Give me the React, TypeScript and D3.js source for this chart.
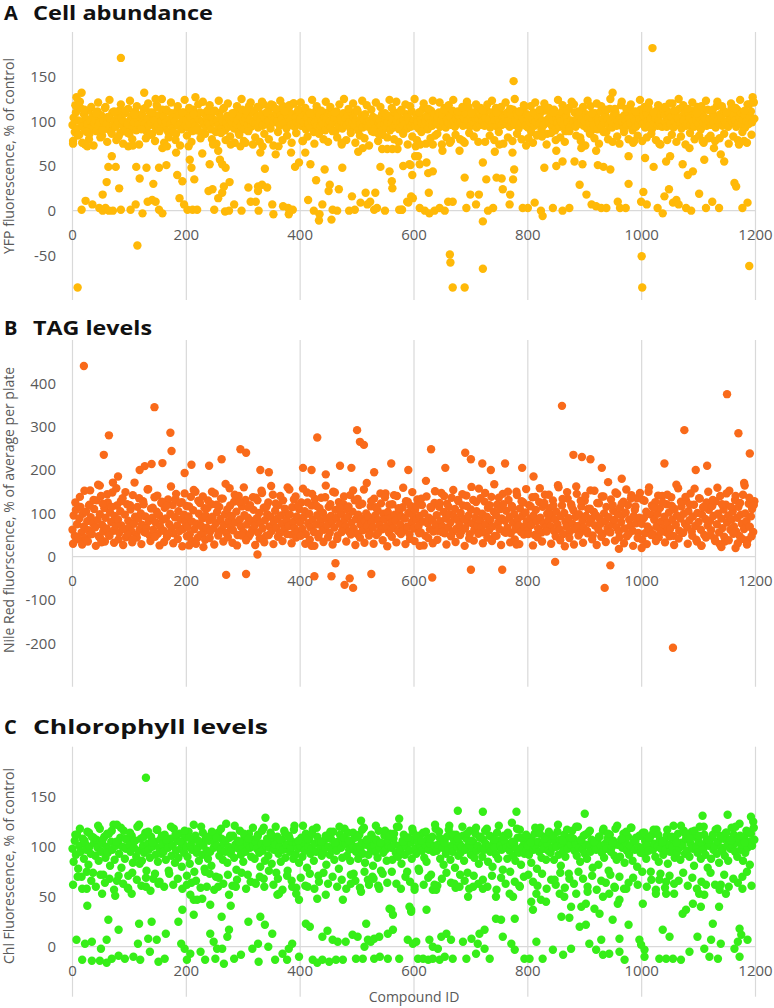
import React from "react";
import * as d3 from "d3";

// ---------- DATA ----------
const compoundTicks = [0, 200, 400, 600, 800, 1000, 1200];
const cellTicks = [-50, 0, 50, 100, 150];
const tagTicks = [-200, -100, 0, 100, 200, 300, 400];
const chlTicks = [0, 50, 100, 150];

// Main-band values, one per even compound (compound ID = index * 2)
const cellBand = [
96,104,88,110,92,101,85,115,99,94,108,90,103,97,112,86,100,93,106,98,
102,89,111,95,99,107,84,100,93,116,97,105,91,103,88,110,96,101,94,108,
99,112,87,104,95,100,109,91,97,114,86,102,106,93,99,111,90,103,96,105,
92,108,100,97,115,89,103,95,110,98,86,104,101,93,118,96,107,91,100,113,
105,94,99,111,88,102,97,109,93,104,100,86,112,95,107,98,91,103,110,96,
101,93,108,97,104,89,113,99,95,106,92,102,110,87,100,97,109,94,103,98,
96,107,91,103,99,112,88,101,95,109,104,93,100,115,90,98,106,94,102,97,
99,104,92,110,97,101,87,106,95,113,100,91,103,108,96,117,102,94,110,99,
112,98,105,93,116,101,108,95,119,103,97,110,100,114,92,106,118,99,104,109,
100,113,95,107,103,117,98,110,92,105,115,101,96,108,120,94,104,99,111,97,
102,95,108,99,113,91,104,97,110,93,101,106,88,99,112,95,103,107,94,100,
97,105,90,102,110,96,100,93,108,99,104,89,111,98,95,106,101,92,109,97,
103,96,107,99,92,110,98,104,95,101,113,90,100,97,106,93,102,108,96,99,
94,101,97,89,105,99,92,103,87,98,100,95,108,91,97,102,93,99,106,90,
98,103,93,110,96,100,106,91,99,113,95,102,97,108,92,104,100,94,111,98,
101,95,107,99,92,110,103,97,114,96,100,106,91,104,98,112,95,102,108,99,
97,104,110,94,101,107,99,115,93,102,98,109,105,96,112,100,94,103,108,99,
106,99,112,95,103,109,97,101,116,94,105,100,110,98,104,93,113,102,96,107,
100,108,95,104,112,98,102,93,110,97,106,101,115,94,103,99,109,96,105,100,
104,97,110,101,94,108,99,113,96,103,100,107,92,111,98,105,102,116,95,108,
93,106,99,88,102,110,95,100,84,104,97,109,91,101,96,112,99,86,103,98,
108,95,101,113,90,104,98,107,94,100,111,96,103,89,106,99,115,93,101,97,
99,110,94,103,97,106,82,101,113,95,100,108,92,104,98,117,90,102,96,109,
105,91,100,97,111,94,103,99,107,88,102,96,114,101,93,106,98,110,95,100,
96,104,118,99,92,107,101,95,110,103,98,112,90,105,100,94,109,97,102,113,
101,97,106,93,109,100,115,96,103,91,107,99,104,112,95,101,98,108,94,110,
107,99,94,111,102,97,105,120,93,100,108,96,103,114,98,92,106,101,110,95,
98,109,103,96,112,100,94,107,101,116,97,104,91,110,99,105,102,95,113,100,
103,96,110,99,106,93,117,101,97,108,104,95,112,100,98,109,94,106,102,115,
99,107,101,94,113,98,104,110,96,102,108,93,100,119,97,105,111,99,122,103
];

// Outer-band values, one per 4 compounds (compound ID = index * 4 + 1)
const cellBandOuter = [
78,118,84,122,76,113,88,80,116,73,109,121,82,90,115,77,124,86,111,79,
83,119,75,112,87,123,80,108,117,74,91,114,81,120,85,110,78,116,89,125,
76,113,82,121,88,79,117,73,110,124,84,115,77,108,90,119,81,122,86,112,
118,80,111,75,123,87,114,79,120,83,109,76,117,85,125,78,112,89,121,74,
82,116,77,122,86,110,80,119,73,114,88,123,79,111,84,118,76,120,87,113,
121,78,115,83,109,124,75,117,86,112,80,122,77,116,89,110,82,119,74,125,
79,114,87,120,76,111,84,123,81,118,73,113,88,121,78,116,85,109,82,124,
115,80,122,77,112,86,119,74,117,83,125,79,110,88,120,75,114,81,123,84,
86,121,74,113,82,118,78,124,85,111,80,116,76,122,87,109,83,119,77,115,
112,77,119,84,123,79,110,88,116,75,121,82,114,78,125,86,111,80,118,73,
81,117,76,121,85,113,83,120,74,115,87,110,79,124,82,118,77,112,89,122,
119,84,111,78,116,73,123,86,109,81,120,75,117,88,113,80,125,77,114,83,
75,122,88,114,80,119,76,111,84,124,78,116,82,121,86,110,79,118,74,115,
116,79,120,85,112,77,125,83,118,74,114,87,121,80,109,84,117,76,123,81,
84,113,78,122,81,117,86,110,75,120,83,115,79,124,88,112,76,119,85,121
];

// Off-band points: [compound ID, value]
const cellScatter = [
[1,75],[9,-86],[7,127],[16,132],[22,74],[26,72],[16,1],[23,11],[35,7],[47,3],[53,0],[58,3],[64,0],[71,0],[85,1],[53,18],[60,32],[63,49],[76,49],[69,61],[82,25],[85,171],[98,72],[106,73],[102,1],[111,7],[123,-3],[114,-39],[112,49],[118,36],[130,48],[126,132],[142,30],[132,10],[140,12],[146,10],[152,1],[158,-3],[152,48],[165,51],[146,125],[158,70],[166,72],[182,65],[184,40],[188,14],[193,33],[196,7],[202,1],[204,72],[206,57],[209,48],[214,35],[211,1],[219,1],[216,127],[228,64],[241,52],[239,22],[246,24],[249,1],[247,74],[256,67],[259,57],[263,52],[269,48],[263,20],[266,27],[256,14],[276,32],[268,-1],[275,0],[278,74],[284,7],[297,0],[295,72],[304,76],[309,26],[313,10],[322,10],[327,0],[326,27],[333,29],[342,26],[330,65],[334,72],[326,22],[338,47],[357,63],[351,7],[353,-4],[362,72],[370,5],[379,3],[387,1],[384,65],[391,49],[398,54],[380,-4],[404,78],[409,65],[414,12],[418,52],[428,34],[424,0],[434,-4],[439,7],[433,-11],[443,46],[452,29],[450,22],[455,-10],[457,1],[465,0],[468,24],[474,48],[473,76],[486,0],[491,16],[496,1],[502,66],[506,9],[515,20],[523,10],[510,70],[518,7],[530,1],[532,20],[535,3],[541,49],[544,69],[549,0],[553,69],[562,69],[571,69],[557,44],[561,33],[562,25],[574,1],[579,1],[588,10],[595,16],[594,51],[597,40],[602,61],
[581,50],[592,52],[607,61],[610,52],[622,54],[625,42],[633,44],[603,72],[611,74],[578,1],[590,9],[598,14],[610,3],[619,0],[627,-3],[636,0],[645,3],[654,0],[626,20],[633,74],[650,67],[663,76],[680,67],[686,78],[660,10],[668,10],[663,-49],[664,-58],[668,-86],[689,-86],[721,-65],[689,37],[721,54],[727,35],[745,37],[754,36],[756,24],[769,18],[774,35],[776,46],[773,65],[742,66],[750,74],[699,18],[714,18],[709,7],[692,3],[721,-12],[730,0],[739,3],[768,7],[775,145],[791,3],[800,3],[812,9],[823,0],[826,-6],[829,48],[844,3],[850,50],[861,55],[861,0],[873,3],[850,67],[882,55],[896,52],[891,29],[894,70],[903,18],[912,7],[920,5],[929,3],[938,3],[923,51],[933,49],[945,46],[920,67],[949,132],[958,10],[962,3],[972,3],[977,61],[977,30],[987,78],[999,10],[1009,7],[1003,21],[1006,59],[1021,49],[1019,182],[1000,-51],[1001,-86],[1028,3],[1037,-3],[1031,75],[1043,55],[1050,61],[1040,16],[1048,24],[1055,9],[1061,12],[1065,7],[1072,52],[1078,3],[1087,0],[1081,40],[1090,44],[1084,70],[1101,19],[1110,57],[1107,78],[1113,3],[1124,10],[1136,3],[1127,70],[1139,63],[1145,55],[1163,31],[1166,27],[1177,3],[1186,9],[1189,-62],[1171,74],[1180,78],[1195,127]
];

const tagBand = [
62,95,48,108,75,40,88,115,56,99,70,43,104,82,61,120,91,52,77,110,
68,130,85,47,98,140,73,58,112,90,65,125,50,102,80,148,60,94,71,118,
86,55,105,72,135,64,97,45,121,83,68,109,58,142,76,92,51,115,88,63,
100,74,128,57,93,67,155,82,48,111,90,62,137,79,104,53,96,70,124,85,
60,113,88,46,132,75,99,66,119,54,91,145,72,105,59,86,126,64,97,80,
117,69,93,52,138,81,107,63,150,76,44,99,124,71,88,56,112,95,67,130,
84,58,121,92,66,146,77,103,49,115,87,62,134,73,98,55,109,82,158,68,
94,61,127,79,104,50,140,86,69,116,57,96,131,74,90,47,119,83,63,108,
72,136,89,56,101,78,152,65,113,84,48,98,125,70,92,59,143,81,106,67,
88,119,54,95,76,130,63,102,85,160,71,97,51,114,80,66,139,93,58,110,
79,125,64,91,105,52,148,77,99,68,118,86,57,133,74,96,45,112,83,70,
101,62,137,88,73,115,55,94,81,150,67,108,90,49,126,76,99,60,121,85,
69,110,93,58,142,78,104,65,130,87,53,97,119,74,88,61,155,82,100,71,
92,57,116,80,68,134,95,50,107,84,72,123,63,99,86,146,70,103,55,89,
78,121,66,97,83,140,59,105,74,92,114,61,88,128,69,101,52,117,80,95,
65,108,86,132,71,94,56,119,81,100,48,139,77,90,63,112,85,58,124,73,
96,60,115,82,147,70,103,54,88,122,67,98,79,136,57,93,110,64,86,128,
74,101,59,118,87,66,141,80,95,52,109,77,131,62,90,105,71,157,84,68,
99,56,127,75,92,113,61,85,138,70,104,48,96,120,79,64,110,88,145,58,
83,106,67,131,91,54,117,78,98,63,150,86,72,111,57,94,125,69,102,80,
61,119,88,73,137,95,50,108,82,65,126,90,56,115,77,143,68,99,84,112,
70,97,130,59,86,104,75,160,63,93,118,52,101,81,69,134,89,58,121,76,
107,64,92,145,71,98,55,116,83,67,129,94,60,110,78,153,87,49,103,72,
95,124,62,88,76,139,53,100,82,115,66,91,57,132,74,106,85,148,68,97,
58,113,80,96,127,65,102,47,119,86,71,142,60,94,108,77,135,55,90,84,
76,131,89,54,104,70,150,63,97,118,52,85,126,69,99,45,112,81,140,66,
92,57,121,78,102,64,137,86,48,110,73,95,158,60,88,116,55,99,76,129,
68,105,84,146,58,93,120,71,39,101,80,134,62,97,114,50,87,125,72,108,
83,61,117,94,42,128,75,99,56,140,88,66,109,35,120,79,95,152,62,86,
104,70,131,58,90,115,48,97,76,143,64,100,82,38,122,69,93,110,57,128
];

const tagBandOuter = [
30,125,45,138,28,152,38,118,52,131,25,166,42,122,35,144,48,115,32,158,
40,128,27,149,50,119,33,171,44,135,29,121,55,156,36,113,46,141,26,127,
34,117,53,162,31,133,41,124,24,146,47,116,37,154,30,129,51,139,39,112,
43,150,28,120,56,134,35,168,45,118,32,143,26,126,49,160,38,114,54,137,
27,130,42,147,33,116,50,163,29,123,46,140,36,111,52,155,31,132,44,119,
48,157,30,125,39,145,25,117,53,136,34,164,45,121,28,148,41,113,57,139,
35,116,51,153,27,133,44,122,32,170,49,128,30,114,55,146,38,137,24,120,
46,142,33,112,52,159,29,127,41,149,36,118,54,134,26,175,43,115,31,151,
39,124,57,140,28,115,47,154,34,131,50,144,25,117,42,161,37,126,53,135,
31,147,44,119,36,167,48,136,27,121,55,150,33,113,40,142,29,128,51,156,
52,116,26,138,45,158,35,124,58,143,30,118,47,165,38,133,24,149,43,116,
28,162,49,129,32,140,54,111,40,152,27,123,46,139,34,172,56,119,37,145,
45,122,31,155,52,134,25,116,43,147,39,129,29,160,50,113,36,141,57,125,
33,143,47,117,27,166,42,127,55,138,30,120,48,157,35,135,26,114,44,150,
50,131,36,159,29,121,46,146,38,115,53,140,31,124,41,164,28,136,47,119
];

const tagScatter = [
[20,440],[55,235],[64,280],[144,345],[172,286],[174,244],[158,216],[127,209],[139,214],[118,200],[197,193],[209,212],[71,171],[80,185],[48,164],[31,153],[240,210],[262,225],[295,248],[305,240],[330,200],[345,195],[430,275],[405,205],[420,200],[445,190],[470,210],[490,205],[500,292],[505,265],[512,258],[530,195],[560,215],[590,200],[630,248],[655,205],[690,240],[700,225],[720,215],[735,200],[760,215],[790,205],[810,185],[860,348],[880,235],[895,230],[910,225],[930,205],[965,180],[1040,215],[1075,292],[1095,200],[1115,210],[1150,375],[1170,285],[1190,238],[1180,170],
[270,-42],[305,-40],[325,5],[425,-45],[455,-45],[462,-15],[478,-65],[487,-50],[493,-72],[525,-40],[632,-48],[700,-30],[755,-30],[848,-12],[935,-72],[945,-20],[1055,-210],
[6,44],[27,35],[51,33],[106,40],[205,26],[230,22],[420,25],[1000,20],[1105,25],[1140,22],[1165,20],[610,25],[780,28],[960,18]
];

const chlBand = [
98,85,106,92,112,78,101,95,70,108,88,103,97,115,82,100,93,110,74,104,
91,107,99,86,118,95,103,72,110,89,100,94,113,81,105,97,122,87,101,66,
104,93,109,79,100,116,88,98,107,71,102,95,111,84,99,106,90,120,96,83,
108,86,101,94,114,76,103,97,89,110,100,68,105,92,117,85,99,107,93,102,
95,112,87,104,99,73,108,91,101,118,84,96,106,89,113,98,80,103,94,109,
100,90,115,83,102,97,107,75,111,94,99,86,104,120,92,101,78,108,96,88,
106,95,81,110,99,104,70,101,114,91,97,108,87,103,95,123,84,100,109,93,
97,111,89,102,77,106,98,116,92,100,85,109,95,104,72,113,99,90,107,101,
88,105,98,112,94,80,103,96,119,86,101,108,91,99,114,83,106,97,102,74,
110,93,100,85,107,97,116,89,102,76,111,95,99,105,88,121,92,103,98,84,
101,109,90,104,96,113,79,100,107,93,98,117,86,103,95,110,71,105,99,91,
94,106,99,82,111,100,92,108,97,115,87,102,96,105,78,112,99,89,104,118,
103,91,114,97,86,106,101,73,109,95,100,88,112,98,104,93,119,84,102,107,
92,104,98,110,81,101,95,107,89,116,99,76,103,94,111,97,86,105,100,113,
99,87,108,102,94,120,90,101,97,83,106,112,92,100,75,109,96,104,88,115,
107,98,93,105,78,111,100,96,114,89,102,85,108,97,103,72,110,95,101,118,
96,102,115,88,106,99,82,104,93,110,98,121,87,101,95,107,79,112,100,91,
103,94,100,111,86,97,108,74,102,116,92,99,105,89,113,96,101,83,109,98,
90,107,97,103,118,85,100,95,110,80,104,99,92,114,88,106,101,97,77,111,
105,99,88,112,96,102,124,91,103,86,98,109,94,117,82,100,107,93,104,96,
101,92,109,84,106,97,113,100,78,105,95,119,89,102,98,110,87,103,96,108,
94,111,99,87,104,100,115,92,107,81,101,96,112,90,105,98,73,109,102,116,
108,96,103,91,120,99,85,106,97,111,93,102,88,114,100,95,107,79,104,99,
97,105,82,110,101,94,116,89,103,98,108,76,112,95,100,106,91,118,87,102,
102,90,107,99,113,84,104,96,110,92,101,119,86,105,97,109,80,100,111,94,
99,114,93,106,88,101,96,108,75,112,97,103,90,117,100,85,107,98,104,92,
105,97,111,83,102,95,109,100,121,89,106,94,113,99,87,104,101,116,93,108,
96,107,90,103,115,98,81,110,100,94,105,120,88,102,97,112,92,106,79,101,
103,88,109,97,100,117,93,105,84,111,99,96,108,91,114,101,86,107,98,119,
100,112,95,104,90,108,123,97,102,86,110,94,116,99,105,82,113,101,125,107
];

const chlBandOuter = [
62,112,70,118,58,106,75,114,66,109,60,121,72,107,64,113,68,116,57,105,
71,119,63,108,59,114,74,106,67,122,61,110,69,115,56,104,73,117,65,111,
60,107,76,120,62,112,68,105,58,116,71,109,64,122,66,106,59,114,75,110,
73,115,57,109,69,118,63,106,72,111,61,121,67,105,74,113,58,108,65,119,
64,110,70,116,60,104,76,112,62,120,68,107,57,114,71,109,66,117,59,106,
69,121,61,108,73,113,58,119,65,105,74,111,63,115,70,104,60,120,67,109,
58,106,72,114,66,110,59,117,75,107,62,112,68,121,61,104,73,116,64,111,
75,113,63,120,58,105,70,109,65,118,60,111,76,106,62,115,69,108,57,122,
61,109,68,104,74,117,64,112,59,108,72,120,66,113,58,106,71,119,63,110,
67,116,60,111,71,107,57,121,69,110,63,114,75,105,65,118,61,109,70,112,
72,104,65,119,61,113,73,108,58,115,67,111,62,122,74,106,59,117,68,109,
63,120,75,107,68,112,60,116,71,105,57,110,66,118,64,113,72,104,59,121,
70,108,58,115,64,119,69,106,62,111,75,114,60,109,67,117,57,112,73,105,
59,117,71,110,63,104,66,121,74,113,61,108,69,116,58,111,65,120,62,107,
74,112,62,118,57,109,72,114,60,106,68,120,64,111,70,104,75,115,61,119
];

const chlScatter = [
[7,7],[22,3],[34,5],[50,-2],[60,7],[63,27],[81,17],[26,41],[52,53],[75,51],[17,-13],[34,-14],[48,-14],[60,-16],[69,-12],[81,-9],[92,-12],[107,-10],[119,-13],[115,3],[117,23],[139,25],[133,8],[148,7],[136,-5],[151,-15],[162,-12],[164,13],[186,25],[193,37],[191,3],[197,-2],[207,-7],[201,-13],[213,32],[225,-5],[233,-13],[242,13],[248,5],[254,-2],[263,-2],[251,-12],[266,-17],[262,30],[275,17],[272,10],[278,41],[284,-12],[296,-8],[309,25],[316,-2],[326,3],[330,30],[338,22],[351,13],[327,-15],[344,0],[356,-13],[369,-7],[380,-2],[386,3],[377,-13],[398,-10],[410,23],[417,20],[422,-13],[430,-16],[439,-13],[451,-15],[463,-13],[475,-13],[439,10],[448,16],[457,7],[466,5],[480,5],[492,12],[501,10],[513,0],[519,7],[524,5],[516,23],[530,8],[539,10],[498,-12],[510,-12],[530,-12],[540,-10],[554,-12],[563,17],[554,13],[557,38],[563,32],[574,-12],[589,7],[598,3],[592,40],[595,35],[607,-12],
[25,58],[98,58],[104,53],[129,60],[151,63],[201,62],[207,52],[213,47],[219,47],[228,48],[236,60],[242,42],[256,60],[275,52],[287,60],[322,63],[336,68],[360,52],[363,53],[386,60],[393,53],[398,47],[413,60],[430,48],[445,52],[475,47],[489,63],[507,55],[519,67],[527,70],[539,58],[560,37],
[129,169],[339,129],[78,122],[507,126],[574,128],
[595,37],[622,37],[604,5],[627,7],[633,0],[642,-2],[616,-12],[625,-13],[633,-12],[645,-13],[654,-10],[668,-12],[692,-12],[709,-7],[733,-12],[648,10],[657,13],[665,7],[686,5],[701,8],[715,13],[724,17],[712,3],[724,-2],[744,28],[753,27],[756,10],[771,3],[777,-3],[777,28],[794,-12],[803,-12],[826,-12],[815,5],[844,-3],[862,-8],[876,-2],[859,30],[873,29],[891,20],[902,22],[908,3],[920,-3],[932,-8],[943,-7],[929,7],[949,27],[961,8],[961,-5],[970,-13],[977,22],[996,7],[999,2],[1005,-3],[1005,-10],[1037,17],[1049,10],[1031,-12],[1043,-12],[1055,-12],[1069,-13],[1084,-5],[1098,10],[1110,-2],[1122,7],[1125,23],[1119,-10],[1134,-12],[1139,3],[1163,-2],[1169,5],[1175,12],[1186,7],[1172,18],[1172,-10],
[601,57],[639,57],[636,62],[671,63],[680,60],[695,50],[704,60],[721,58],[744,50],[768,53],[774,50],[786,60],[809,37],[806,45],[815,53],[823,47],[832,45],[847,67],[856,53],[864,50],[876,40],[885,53],[894,40],[902,43],[917,38],[926,33],[905,55],[932,50],[943,53],[952,60],[958,43],[961,47],[973,58],[1002,43],[1025,53],[1043,53],[1057,53],[1031,67],[1043,65],[1072,33],[1078,37],[1090,43],[1101,53],[1110,52],[1104,40],[1139,62],[1148,53],[1136,40],[1177,58],
[677,136],[721,135],[780,135],[900,133],[1107,131],[1151,132],[1192,130]
];

// ---------- LAYOUT ----------
const W = 774;
const H = 1008;
const xScale = d3.scaleLinear().domain([0, 1200]).range([72.5, 755.5]);
const GRID = "#d9d9d9";
const TXT = "#595959";
const FONT = "'Open Sans', 'Noto Sans', sans-serif";

type PanelDef = {
  letter: string;
  title: string;
  titleY: number;
  titleLen: number;
  yLabel: string;
  yLabelY: number;
  top: number;
  bottom: number;
  domain: [number, number];
  ticks: number[];
  color: string;
  band: number[];
  outer: number[];
  scatter: number[][];
};

const panels: PanelDef[] = [
  {
    letter: "A", title: "Cell abundance", titleY: 19.5, titleLen: 180,
    yLabel: "YFP fluorescence, % of control", yLabelY: 156,
    top: 32, bottom: 300, domain: [-100, 200], ticks: cellTicks,
    color: "#FFB908", band: cellBand, outer: cellBandOuter, scatter: cellScatter,
  },
  {
    letter: "B", title: "TAG levels", titleY: 335, titleLen: 119,
    yLabel: "Nile Red fluorscence, % of average per plate", yLabelY: 510,
    top: 340, bottom: 686.7, domain: [-300, 500], ticks: tagTicks,
    color: "#F96A1A", band: tagBand, outer: tagBandOuter, scatter: tagScatter,
  },
  {
    letter: "C", title: "Chlorophyll levels", titleY: 733.5, titleLen: 235,
    yLabel: "Chl Fluorescence, % of control", yLabelY: 866,
    top: 746.7, bottom: 996.7, domain: [-50, 200], ticks: chlTicks,
    color: "#36EE18", band: chlBand, outer: chlBandOuter, scatter: chlScatter,
  },
];

function Panel({ p }: { p: PanelDef }) {
  const y = d3.scaleLinear().domain(p.domain).range([p.bottom, p.top]);
  const y0 = y(0);
  const pts: number[][] = [
    ...p.band.map((v, i) => [i * 2, v]),
    ...p.outer.map((v, i) => [i * 4 + 1, v]),
    ...p.scatter,
  ];
  return (
    <g>
      {compoundTicks.map((t) => (
        <line key={"g" + t} x1={xScale(t)} x2={xScale(t)} y1={p.top} y2={p.bottom} stroke={GRID} strokeWidth={1.2} />
      ))}
      <line x1={xScale(0)} x2={xScale(1200)} y1={y0} y2={y0} stroke={GRID} strokeWidth={1.2} />
      {p.ticks.map((t) => (
        <text key={"yt" + t} x={56} y={y(t) + 5.3} textAnchor="end" fontSize={15} fill={TXT} fontFamily={FONT}>
          {t}
        </text>
      ))}
      {compoundTicks.map((t) => (
        <text key={"xt" + t} x={xScale(t)} y={y0 + 29} textAnchor="middle" fontSize={15} fill={TXT} fontFamily={FONT}>
          {t}
        </text>
      ))}
      <text x={4} y={p.titleY} fontSize={20} fontWeight={700} fill="#111" fontFamily={FONT}>{p.letter}</text>
      <text x={33} y={p.titleY} fontSize={20} fontWeight={700} fill="#111" fontFamily={FONT} textLength={p.titleLen} lengthAdjust="spacingAndGlyphs">
        {p.title}
      </text>
      <text
        transform={`translate(14,${p.yLabelY}) rotate(-90)`}
        textAnchor="middle"
        fontSize={14}
        fill={TXT}
        fontFamily={FONT}
      >
        {p.yLabel}
      </text>
      {pts.map(([c, v], i) => (
        <circle key={i} cx={xScale(c)} cy={y(v)} r={4.2} fill={p.color} />
      ))}
    </g>
  );
}

export default function App() {
  return (
    <svg width={W} height={H} viewBox={`0 0 ${W} ${H}`} style={{ position: "absolute", left: 0, top: 0, background: "#fff" }}>
      <rect width={W} height={H} fill="#fff" />
      {panels.map((p) => (
        <Panel key={p.letter} p={p} />
      ))}
      <text x={414} y={1002} textAnchor="middle" fontSize={14} fill={TXT} fontFamily={FONT}>
        Compound ID
      </text>
    </svg>
  );
}
